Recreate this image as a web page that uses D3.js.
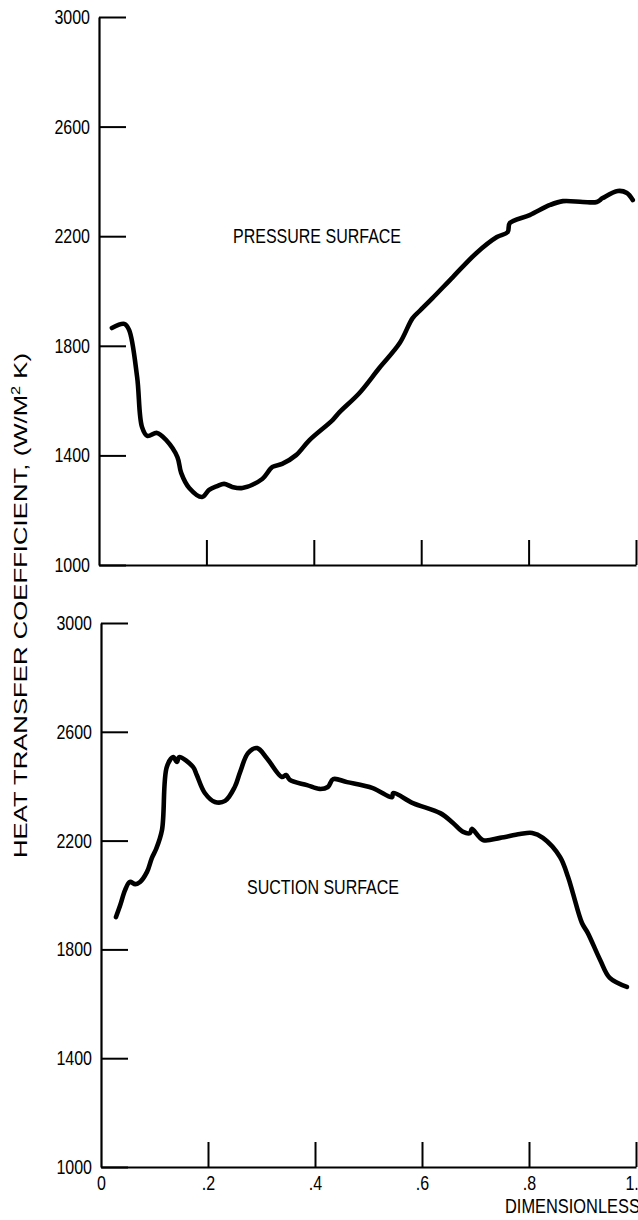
<!DOCTYPE html>
<html><head><meta charset="utf-8">
<script src="https://cdn.jsdelivr.net/npm/d3@7"></script>
<style>
body{margin:0;background:#fff;}
svg{display:block;}
text{font-family:"Liberation Sans",Arial,sans-serif;fill:#000;}
</style>
</head><body>
<svg id="c" width="638" height="1220"></svg>
<script>
// ---- data ----
const yTicks = [1000, 1400, 1800, 2200, 2600, 3000];
const xTicks = [0, 0.2, 0.4, 0.6, 0.8, 1.0];
const xTickLabels = ["0", ".2", ".4", ".6", ".8", "1.0"];

const pressureX = [0.024,0.047,0.056,0.071,0.080,0.090,0.108,0.125,0.146,0.153,0.168,0.192,0.205,0.220,0.233,0.248,0.267,0.304,0.323,0.341,0.367,0.392,0.435,0.448,0.485,0.522,0.560,0.584,0.597,0.621,0.659,0.703,0.741,0.761,0.765,0.802,0.840,0.864,0.901,0.927,0.938,0.966,0.983,0.994];
const pressureY = [1865,1880,1858,1686,1504,1471,1482,1456,1394,1336,1281,1248,1274,1288,1296,1285,1281,1314,1358,1369,1401,1456,1529,1558,1628,1719,1810,1901,1927,1974,2051,2139,2197,2215,2248,2277,2314,2328,2325,2325,2339,2365,2358,2332];

const suctionX = [0.028,0.036,0.045,0.054,0.064,0.073,0.086,0.095,0.103,0.114,0.123,0.135,0.142,0.146,0.172,0.179,0.194,0.213,0.232,0.250,0.260,0.275,0.292,0.310,0.338,0.346,0.353,0.385,0.409,0.424,0.434,0.460,0.508,0.544,0.546,0.583,0.634,0.658,0.677,0.690,0.693,0.714,0.746,0.783,0.806,0.826,0.858,0.873,0.882,0.899,0.910,0.933,0.951,0.983];
const suctionY = [1919,1963,2018,2048,2040,2048,2085,2136,2169,2239,2471,2507,2489,2507,2471,2441,2375,2342,2346,2397,2452,2522,2540,2503,2434,2441,2423,2404,2390,2397,2426,2415,2393,2360,2375,2338,2301,2265,2232,2228,2243,2202,2210,2224,2228,2210,2140,2066,2007,1897,1860,1761,1695,1662];

const panelLabels = ["PRESSURE SURFACE", "SUCTION SURFACE"];
const yTitle = "HEAT TRANSFER COEFFICIENT,  (W/M";
const xTitle = "DIMENSIONLESS SURFACE DISTANCE";

// ---- drawing ----
const svg = d3.select("#c");
const FS = 20;

function panel(cfg){
  const x = d3.scaleLinear().domain([0,1]).range([cfg.x0, cfg.x1]);
  const y = d3.scaleLinear().domain([1000,3000]).range([cfg.y0, cfg.y1]);

  const gy = svg.append("g").attr("transform",`translate(${cfg.x0},0)`)
    .call(d3.axisLeft(y).tickValues(yTicks).tickFormat(d3.format("d"))
      .tickSize(-27).tickSizeOuter(0).tickPadding(9));
  const gx = svg.append("g").attr("transform",`translate(0,${cfg.y0})`)
    .call(d3.axisBottom(x).tickValues(cfg.labels ? xTicks : xTicks.slice(1))
      .tickFormat(d=> cfg.labels ? xTickLabels[xTicks.indexOf(d)] : "")
      .tickSize(-25).tickSizeOuter(0).tickPadding(9));
  [gy,gx].forEach(g=>{
    g.attr("font-size",FS).attr("font-family","Liberation Sans, Arial, sans-serif");
    g.selectAll("path.domain").attr("stroke","#000").attr("stroke-width",2.2);
    g.selectAll(".tick line").attr("stroke","#000").attr("stroke-width",2);
    g.selectAll("text").attr("fill","#000");
  });
  if (cfg.labels) gx.selectAll(".tick").filter(d=>d===0).select("line").remove();

  const line = d3.line().x(d=>x(d[0])).y(d=>y(d[1])).curve(d3.curveCatmullRom.alpha(0.5));
  svg.append("path").datum(cfg.xs.map((v,i)=>[v,cfg.ys[i]]))
    .attr("d",line).attr("fill","none").attr("stroke","#000")
    .attr("stroke-width",4.6).attr("stroke-linejoin","round").attr("stroke-linecap","round");

  svg.append("text").attr("class","lbl").attr("x",x(cfg.labelX)).attr("y",y(cfg.labelY))
    .attr("dy","0.36em").attr("text-anchor","middle").attr("font-size",FS).text(cfg.label);
  return {x,y};
}

panel({x0:99, x1:636, y0:565, y1:17, xs:pressureX, ys:pressureY, labels:false,
       label:panelLabels[0], labelX:0.406, labelY:2200});
panel({x0:101, x1:636, y0:1167, y1:623, xs:suctionX, ys:suctionY, labels:true,
       label:panelLabels[1], labelX:0.415, labelY:2030});

// condensed look of the original lettering
svg.selectAll("text").each(function(){
  const t = d3.select(this);
  if (t.text() === "") return;
  const w = this.getComputedTextLength();
  t.attr("textLength", w*0.8).attr("lengthAdjust","spacingAndGlyphs");
});

// axis titles
const yt = svg.append("text").attr("transform","translate(27,858) rotate(-90)")
  .attr("text-anchor","start").attr("font-size",19)
  .attr("textLength",505).attr("lengthAdjust","spacingAndGlyphs");
yt.append("tspan").text(yTitle);
yt.append("tspan").attr("dy",-7).attr("font-size",12).text("2");
yt.append("tspan").attr("dy",7).text(" K)");

const xt = svg.append("text").attr("x",505).attr("y",1213).attr("font-size",FS).text(xTitle);
xt.attr("textLength", xt.node().getComputedTextLength()*0.82).attr("lengthAdjust","spacingAndGlyphs");
</script>
</body></html>
